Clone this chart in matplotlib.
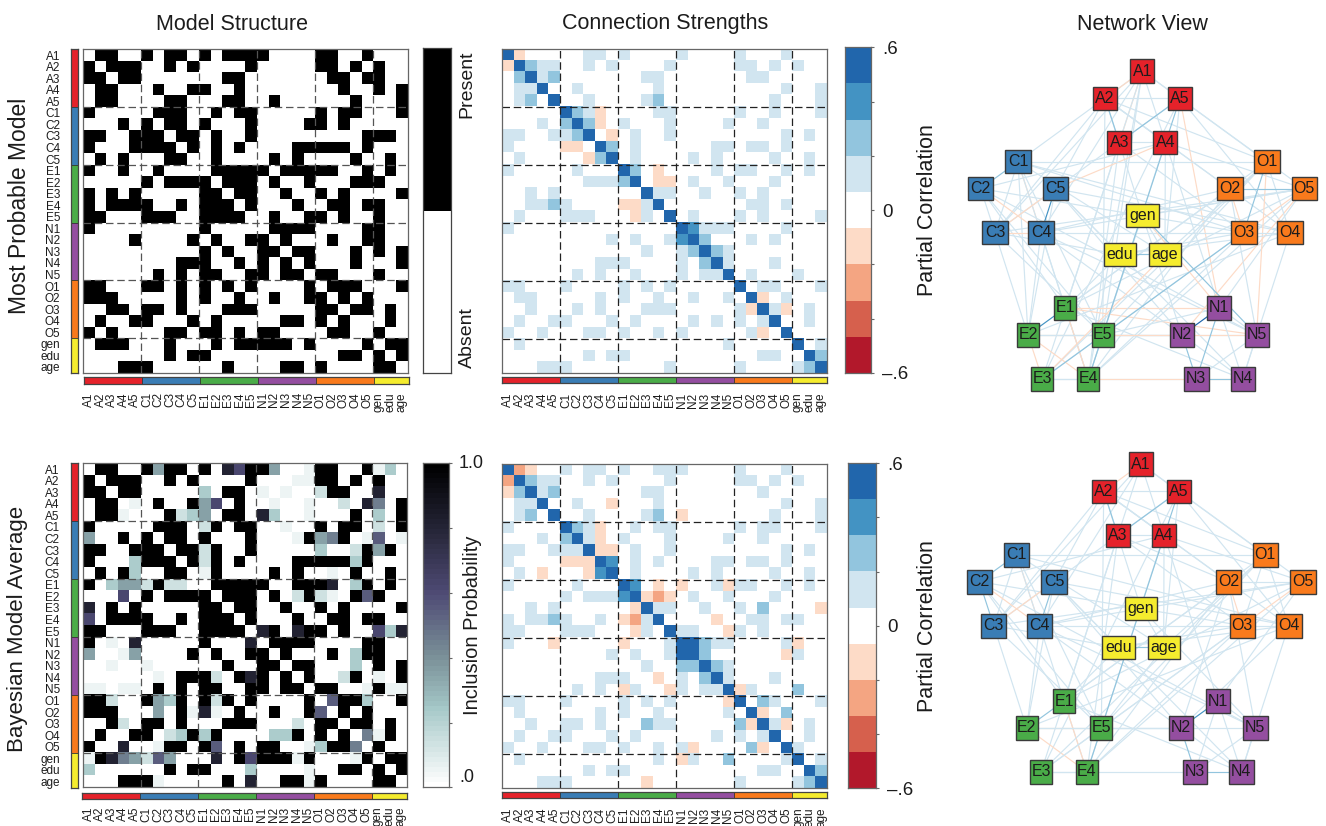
import numpy as np
import matplotlib
matplotlib.use('Agg')
import matplotlib.pyplot as plt
from matplotlib.colors import ListedColormap, LinearSegmentedColormap, BoundaryNorm
from matplotlib.patches import Rectangle

plt.rcParams['font.family'] = ['Liberation Sans', 'DejaVu Sans']

# === DATA ===
VARIABLES = ['A1', 'A2', 'A3', 'A4', 'A5', 'C1', 'C2', 'C3', 'C4', 'C5',
             'E1', 'E2', 'E3', 'E4', 'E5', 'N1', 'N2', 'N3', 'N4', 'N5',
             'O1', 'O2', 'O3', 'O4', 'O5', 'gen', 'edu', 'age']
GROUP_SIZES = [5, 5, 5, 5, 5, 3]
GROUP_COLORS = ['#e5222a', '#3a7db5', '#4aac48', '#944ea0', '#f97a1c', '#f5ec2e']

# column indices that are present, row by row
structure_rows = [
    [1, 2, 5, 7, 8, 10, 12, 13, 14, 15, 20, 21, 24],
    [0, 2, 3, 4, 7, 9, 14, 20, 21, 23, 25],
    [0, 1, 3, 4, 12, 13, 21, 22, 24, 25],
    [1, 2, 6, 9, 10, 13, 22, 25, 27],
    [1, 2, 7, 8, 12, 13, 16, 23, 27],
    [0, 6, 7, 8, 11, 13, 14, 20, 22, 23, 27],
    [3, 5, 7, 8, 10, 14, 19, 20, 22],
    [0, 1, 4, 5, 6, 8, 9, 11, 14, 24, 25, 26],
    [0, 4, 5, 6, 7, 9, 11, 13, 18, 19, 20, 21, 22, 24],
    [1, 3, 7, 8, 11, 16, 18, 23, 26],
    [0, 3, 6, 11, 12, 13, 14, 15, 17, 18, 19, 20, 21, 24, 26],
    [5, 7, 8, 9, 10, 12, 13, 14, 16, 19, 23, 24, 25],
    [0, 2, 4, 10, 11, 13, 14, 17, 20, 22, 27],
    [0, 2, 3, 4, 5, 8, 10, 11, 12, 14, 18, 21, 22, 24, 25],
    [0, 1, 5, 6, 7, 10, 11, 12, 13, 16, 19, 20, 22, 25],
    [0, 10, 16, 17, 18, 19, 24, 25],
    [4, 9, 11, 14, 15, 17, 21, 24, 25],
    [10, 12, 15, 16, 18, 19, 23, 25, 27],
    [8, 9, 10, 13, 15, 17, 19, 23, 27],
    [6, 8, 10, 11, 14, 15, 17, 18, 20, 21, 25],
    [0, 1, 5, 6, 8, 10, 12, 14, 19, 21, 22, 23, 27],
    [0, 1, 2, 8, 10, 13, 16, 19, 20, 22, 24],
    [2, 3, 5, 6, 8, 12, 13, 14, 20, 21, 23, 24, 26],
    [1, 4, 5, 9, 11, 17, 18, 20, 22, 26],
    [0, 2, 7, 8, 10, 11, 13, 15, 16, 21, 22, 25],
    [1, 2, 3, 7, 11, 13, 14, 15, 16, 17, 19, 24, 26, 27],
    [7, 9, 10, 22, 23, 25, 27],
    [3, 4, 5, 12, 17, 18, 20, 25, 26],
]

# inclusion probability, one digit per cell, looked up in INCLUSION_LEVELS
inclusion_rows = [
    '09900 94990 90879 94001 99009 130',
    '90999 00909 00009 00011 99090 900',
    '99099 00000 30990 10100 29900 800',
    '09901 09009 47090 01001 00208 509',
    '09910 00923 40990 83001 00090 309',
    '90000 09990 29099 00100 90990 209',
    '40090 90990 90009 00019 45901 601',
    '99009 99099 29009 00000 30029 490',
    '90003 99909 29090 00099 99939 000',
    '09093 00990 19000 09090 01090 090',
    '90344 29220 09999 90099 98039 090',
    '00070 90999 90999 09029 21096 900',
    '80909 00000 99099 00900 90900 009',
    '70999 90090 99909 00090 09909 900',
    '99000 99900 99990 89089 90900 738',
    '90108 00000 90008 09999 00009 900',
    '40014 00009 09009 90900 09039 900',
    '00100 10000 00900 99099 00030 909',
    '00000 01099 92098 90909 00290 109',
    '11011 09090 99009 90990 99001 911',
    '99200 94390 92909 00009 06993 009',
    '99900 04091 81090 09009 60909 000',
    '00920 99090 00999 00020 99099 090',
    '09009 90239 39000 03390 90905 190',
    '90080 01990 96090 99001 39950 900',
    '19854 26400 08097 99919 00019 099',
    '30000 00909 90003 00001 00990 909',
    '00099 91000 00908 00991 90000 990',
]
INCLUSION_LEVELS = [0.0, 0.05, 0.13, 0.22, 0.35, 0.45, 0.55, 0.62, 0.82, 1.0]

# partial correlation bins: . = 0, 1-4 positive, p/q negative
strength_msm_rows = [
    '4p... ..11. 1.... 1.... 1...1 ...',
    'p4211 ..1.1 ....1 ..... 11.1. 1..',
    '.2412 ..... ..11. ..... .11.. ...',
    '.114. .1... ...1. ..... ....1 ..1',
    '.12.4 ..1.. ..12. ..... ...1. ..1',
    '..... 421p. ...11 ..... 1..1. ..1',
    '...1. 242p. 1...1 ....1 ..1.. ...',
    '11..1 124.p .1..1 ..... ....1 .1.',
    '1.... pp.42 .1... ...11 .11.1 ...',
    '.1... ..p24 .1... .1.1. ...1. .1.',
    '1.... .1... 42.p. ...1. 11..1 .1.',
    '..... ..111 24.pp .1..1 ...1. ...',
    '..1.1 ..... ..411 ..1.. 1.1.. ...',
    '..112 1.... pp14. ..... .11.1 ...',
    '.1... 111.. .p1.4 .1... 1.1.. ..1',
    '1.... ..... ..... 43111 ....1 ...',
    '..... ....1 .1..1 342.. .1.1. ...',
    '..... ..... ..1.. 12421 ..... ...',
    '..... ...11 1.... 1.241 ...1. ...',
    '..... .1.1. .1... 1.114 .1... 1..',
    '11... 1.... 1.1.1 ..... 4.11. ..1',
    '.11.. ...1. 1..1. .1..1 .4p.1 ...',
    '..1.. .1.1. ..111 ..... 1p41p .1.',
    '.1..1 1...1 .1... .1.1. 1.14. .1.',
    '1..1. ..11. 1..1. 1.... .1p.4 ...',
    '.1... ..... ..... ....1 ..... 4.1',
    '..... ..1.1 1.... ..... ..11. .42',
    '...11 1.... ....1 ..... 1.... 124',
]
strength_bma_rows = [
    '4qp.. 1.11. 1..11 1.... 1...1 ...',
    'q4211 ..1.1 ....1 ..... 11.1. 1..',
    'p2412 ..... ..11. ..... ..1.. ...',
    '.114. .1..p ...1. ..... ....1 ..1',
    '.12.4 ..1.. ..12. p.... ...1. ..1',
    '1.... 421p. .1.11 ..... 1.11. ..1',
    '...1. 241p. 1...1 ....1 ..1.. ...',
    '11..1 114pp .1..1 ..... ....1 .1.',
    '1.... ppp43 .1.1. ...11 .11.1 ...',
    '.1.p. ..p34 .1... .1.1. ...1. .1.',
    '1.... .1... 43.p. p..1p 11..1 .1.',
    '..... 1.111 34pqp .1..1 ...1. ...',
    '..1.1 ..... .p411 ..1.. 1.2.. ..p',
    '1.112 1..1. pq14. ...p. .11.1 1..',
    '11... 111.. .p1.4 11..p 1.1.. ...',
    '1...p ..... p...1 44211 ....1 p..',
    '..... ....1 .1..1 442.. ....p 1..',
    '..... ..... ..1.. 22421 ..... ...',
    '..... ...11 1..p. 1.241 ...1. ...',
    '..... .1.1. p1..p 1.114 p1... 2..',
    '11... 1.... 1.1.1 ....p 4.21. ..1',
    '.1... ...1. 1..1. ....1 .4p.2 ...',
    '..1.. 11.1. ..211 ..... 2p41p .1.',
    '.1..1 1...1 .1... ...1. 1.14. .1.',
    '1..1. ..11. 1..1. 1p... .2p.4 1..',
    '.1... ..... ...1. p1..2 ....1 4.1',
    '..... ..1.1 1.... ..... ..11. .42',
    '...11 1.... ..p.. ..... 1.... 124',
]
BIN_VALUES = {'.': 0, '1': 1, '2': 2, '3': 3, '4': 4, 'p': -1, 'q': -2}

# network layout, same order as VARIABLES
node_x = [577, 465, 508, 646, 690, 204, 92, 135, 273, 316,
          346, 234, 277, 415, 458, 808, 696, 739, 878, 920,
          950, 839, 881, 1020, 1063, 577, 509, 645]
node_y = [63, 145, 277, 277, 145, 335, 416, 548, 548, 416,
          774, 855, 987, 987, 855, 774, 855, 987, 987, 855,
          335, 416, 548, 548, 416, 496, 613, 613]

# === STYLE ===
W, H = 1326, 826
TEXT_COLOR = '#1c1c1c'
BIN_COLORS = ['#b2182b', '#d6604d', '#f4a582', '#fddbc7', '#ffffff',
              '#d1e5f0', '#92c5de', '#4393c3', '#2166ac']
bin_cmap = ListedColormap(BIN_COLORS)
bin_norm = BoundaryNorm(np.arange(-4.5, 5.5), bin_cmap.N)
incl_cmap = LinearSegmentedColormap.from_list('incl', [
    (0.0, '#ffffff'), (0.24, '#a5c8c8'), (0.4, '#7a9098'),
    (0.6, '#4f4b75'), (0.8, '#262638'), (1.0, '#000000')])
binary_cmap = ListedColormap(['#ffffff', '#000000'])
group_cmap = ListedColormap(GROUP_COLORS)
group_index = np.repeat(np.arange(len(GROUP_SIZES)), GROUP_SIZES)
group_bounds = np.cumsum(GROUP_SIZES)[:-1] - 0.5
NODE_WIDTHS = [72, 76, 66, 73, 77, 97]  # layout units, per group
NODE_HEIGHT = 71

fig = plt.figure(figsize=(W / 100, H / 100), dpi=100, facecolor='white')


def add_ax(left, top, right, bottom):
    return fig.add_axes([left / W, 1 - bottom / H, (right - left) / W, (bottom - top) / H])


def txt(x, y, s, size, **kw):
    fig.text(x / W, 1 - y / H, s, fontsize=size, color=TEXT_COLOR,
             ha=kw.pop('ha', 'center'), va=kw.pop('va', 'center'), **kw)


def style_spines(ax, color='#666666', lw=0.9):
    for sp in ax.spines.values():
        sp.set_color(color)
        sp.set_linewidth(lw)


def parse_rows(rows):
    return [r.replace(' ', '') for r in rows]


def strength_matrix(rows):
    return np.array([[BIN_VALUES[c] for c in r] for r in parse_rows(rows)])


def draw_heat(box, matrix, cmap, norm, dash_color, row_labels):
    ax = add_ax(*box)
    ax.imshow(matrix, cmap=cmap, norm=norm, aspect='auto', interpolation='nearest')
    for b in group_bounds:
        ax.axvline(b, color=dash_color, lw=0.9, dashes=(6, 3))
        ax.axhline(b, color=dash_color, lw=0.9, dashes=(6, 3))
    style_spines(ax)
    ax.set_xticks(range(len(VARIABLES)))
    ax.set_xticklabels(VARIABLES, rotation=90, fontsize=8.5, color=TEXT_COLOR)
    ax.tick_params(axis='x', length=0, pad=14)
    if row_labels:
        ax.set_yticks(range(len(VARIABLES)))
        ax.set_yticklabels(VARIABLES, fontsize=8.5, color=TEXT_COLOR)
        ax.tick_params(axis='y', length=0, pad=16.5)
    else:
        ax.set_yticks([])
    return ax


def draw_strip(box, vertical):
    ax = add_ax(*box)
    data = group_index[:, None] if vertical else group_index[None, :]
    ax.imshow(data, cmap=group_cmap, aspect='auto', interpolation='nearest')
    for b in group_bounds:
        if vertical:
            ax.axhline(b, color='#333333', lw=0.6)
        else:
            ax.axvline(b, color='#333333', lw=0.6)
    ax.set_xticks([])
    ax.set_yticks([])
    style_spines(ax, '#444444', 0.9)


def draw_bin_colorbar(box, label_x, label_y):
    ax = add_ax(*box)
    ax.imshow(np.arange(-4, 5)[:, None], cmap=bin_cmap, norm=bin_norm, aspect='auto',
              origin='lower', extent=[0, 1, -0.6, 0.6], interpolation='nearest')
    ax.set_xticks([])
    ax.yaxis.tick_right()
    ax.set_yticks(np.arange(-3, 4) * 0.2)
    ax.set_yticklabels(['\u2013.6', '', '', '0', '', '', '.6'], fontsize=13.5, color=TEXT_COLOR)
    ax.tick_params(axis='y', length=2, width=0.8, color='#666666', pad=6)
    style_spines(ax)
    txt(label_x, label_y, 'Partial Correlation', 15.5, rotation=90)


def draw_network(box, matrix):
    ax = add_ax(*box)
    ax.set_xlim(0, 1110)
    ax.set_ylim(1050, 0)
    ax.axis('off')
    n = len(VARIABLES)
    pairs = [(i, j) for i in range(n) for j in range(i + 1, n) if matrix[i, j] != 0]
    pairs.sort(key=lambda p: abs(matrix[p]))
    for i, j in pairs:
        # faint lines, the negative ones stay paler than their heatmap bin
        level = max(matrix[i, j], -1)
        ax.plot([node_x[i], node_x[j]], [node_y[i], node_y[j]], lw=0.85,
                color=BIN_COLORS[level + 4], solid_capstyle='butt', zorder=1)
    for i, name in enumerate(VARIABLES):
        g = group_index[i]
        w = NODE_WIDTHS[g]
        ax.add_patch(Rectangle((node_x[i] - w / 2, node_y[i] - NODE_HEIGHT / 2), w, NODE_HEIGHT,
                               facecolor=GROUP_COLORS[g], edgecolor='#3a3a3a', lw=1.0, zorder=2))
        ax.text(node_x[i], node_y[i], name, ha='center', va='center', fontsize=11.5,
                color=TEXT_COLOR, zorder=3)


# === MATRICES ===
structure = np.zeros((28, 28), dtype=int)
for r, cols in enumerate(structure_rows):
    structure[r, cols] = 1
inclusion = np.array([[INCLUSION_LEVELS[int(c)] for c in r] for r in parse_rows(inclusion_rows)])
strength_msm = strength_matrix(strength_msm_rows)
strength_bma = strength_matrix(strength_bma_rows)

# === ROW 1: MOST PROBABLE MODEL ===
draw_heat((83.3, 49.3, 407.7, 372.7), structure, binary_cmap, None, '#555555', True)
draw_strip((71.3, 49, 77.7, 373), True)
draw_strip((84.3, 377, 408.7, 383.7), False)
draw_heat((502.3, 49.2, 826.7, 373.3), strength_msm, bin_cmap, bin_norm, '#222222', False)
draw_strip((502.3, 377, 827, 383.4), False)

cb = add_ax(422.7, 48.3, 450.7, 372.7)
cb.imshow(np.array([[0], [1]]), cmap=binary_cmap, aspect='auto', origin='lower', interpolation='nearest')
cb.set_xticks([])
cb.set_yticks([])
style_spines(cb, '#444444')
txt(467, 84, 'Present', 14, rotation=90)
txt(467, 338, 'Absent', 14, rotation=90)
draw_bin_colorbar((845, 47.5, 871, 373), 928, 210)
draw_network((950, 50, 1320, 400), strength_bma)

# === ROW 2: BAYESIAN MODEL AVERAGE ===
draw_heat((82.7, 463.3, 406.7, 787.3), inclusion, incl_cmap, None, '#555555', True)
draw_strip((71.3, 463, 77.7, 788), True)
draw_strip((81.7, 793, 406.7, 799), False)
draw_heat((502.3, 464, 827, 788.3), strength_bma, bin_cmap, bin_norm, '#222222', False)
draw_strip((502.3, 792, 827, 798.3), False)

cb2 = add_ax(422.7, 463.3, 449.3, 787.3)
cb2.imshow(np.linspace(0, 1, 64)[:, None], cmap=incl_cmap, vmin=0, vmax=1, aspect='auto',
           origin='lower', extent=[0, 1, 0, 1])
cb2.set_xticks([])
cb2.yaxis.tick_right()
cb2.set_yticks(np.arange(0, 1.01, 0.2))
cb2.set_yticklabels([])
cb2.tick_params(axis='y', length=2, width=0.8, color='#666666')
style_spines(cb2)
txt(459, 463, '1.0', 13, ha='left')
txt(459, 778, '.0', 13, ha='left')
txt(473, 625, 'Inclusion Probability', 14.5, rotation=90)
draw_bin_colorbar((848.3, 463.3, 875.7, 788.3), 928, 626)
draw_network((948.7, 443, 1318.7, 793), strength_msm)

# === TITLES ===
txt(232, 24, 'Model Structure', 15.5)
txt(665, 24, 'Connection Strengths', 15.5)
txt(1142, 24, 'Network View', 15.5)
txt(20, 206, 'Most Probable Model', 16.5, rotation=90)
txt(18, 629, 'Bayesian Model Average', 16, rotation=90)

fig.savefig('out.png', dpi=100, facecolor='white')
